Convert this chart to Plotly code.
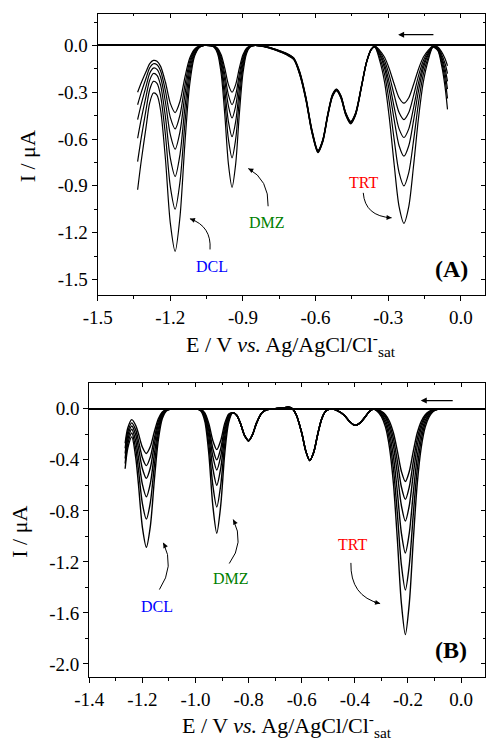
import plotly.graph_objects as go

# ---------------- Panel A data (E / V, I / uA) ----------------
E_A_DCL = [-1.335, -1.32, -1.30, -1.285, -1.27, -1.255, -1.24, -1.22, -1.20, -1.18,
           -1.16, -1.14, -1.12, -1.10, -1.08, -1.06]
I_A_DCL = [
    [-0.300, -0.239, -0.167, -0.116, -0.096, -0.101, -0.134, -0.236, -0.371, -0.430, -0.358, -0.206, -0.082, -0.023, -0.004, 0.0],
    [-0.380, -0.301, -0.209, -0.143, -0.117, -0.123, -0.164, -0.293, -0.461, -0.535, -0.445, -0.257, -0.102, -0.028, -0.005, 0.0],
    [-0.475, -0.376, -0.261, -0.178, -0.145, -0.153, -0.204, -0.364, -0.572, -0.665, -0.553, -0.319, -0.127, -0.035, -0.007, 0.0],
    [-0.595, -0.471, -0.325, -0.222, -0.180, -0.192, -0.256, -0.459, -0.723, -0.840, -0.699, -0.403, -0.160, -0.045, -0.008, 0.0],
    [-0.745, -0.591, -0.410, -0.282, -0.230, -0.243, -0.324, -0.576, -0.905, -1.050, -0.874, -0.504, -0.201, -0.056, -0.011, 0.0],
    [-0.925, -0.739, -0.522, -0.367, -0.305, -0.318, -0.416, -0.730, -1.139, -1.320, -1.098, -0.634, -0.252, -0.070, -0.013, 0.0],
]
E_A_DMZ = [-1.035, -1.02, -1.005, -0.99, -0.975, -0.96, -0.945, -0.93, -0.915, -0.90, -0.885, -0.87]
I_A_DMZ = [
    [0.0, -0.003, -0.017, -0.059, -0.146, -0.251, -0.300, -0.251, -0.146, -0.059, -0.017, -0.003],
    [-0.001, -0.004, -0.021, -0.075, -0.185, -0.317, -0.380, -0.317, -0.185, -0.075, -0.021, -0.004],
    [-0.001, -0.005, -0.026, -0.092, -0.226, -0.388, -0.465, -0.388, -0.226, -0.092, -0.026, -0.005],
    [-0.001, -0.006, -0.033, -0.116, -0.285, -0.488, -0.585, -0.488, -0.285, -0.116, -0.033, -0.006],
    [-0.001, -0.008, -0.040, -0.143, -0.351, -0.601, -0.720, -0.601, -0.351, -0.143, -0.040, -0.008],
    [-0.001, -0.010, -0.051, -0.180, -0.443, -0.760, -0.910, -0.760, -0.443, -0.180, -0.051, -0.010],
]
E_A_MID = [-0.85, -0.80, -0.76, -0.72, -0.69, -0.665, -0.64, -0.615, -0.59, -0.57,
           -0.55, -0.53, -0.513, -0.495, -0.475, -0.455, -0.435, -0.41, -0.39, -0.37]
I_A_MID = [
    [0.0, -0.008, -0.027, -0.050, -0.080, -0.170, -0.330, -0.540, -0.672, -0.602, -0.442, -0.313, -0.280, -0.323, -0.432, -0.487, -0.433, -0.255, -0.107, -0.024],
    [0.0, -0.009, -0.028, -0.052, -0.082, -0.174, -0.334, -0.544, -0.675, -0.605, -0.445, -0.316, -0.282, -0.326, -0.435, -0.490, -0.436, -0.257, -0.108, -0.024],
    [0.0, -0.010, -0.029, -0.054, -0.084, -0.178, -0.338, -0.548, -0.678, -0.608, -0.448, -0.319, -0.284, -0.329, -0.438, -0.493, -0.439, -0.259, -0.109, -0.025],
    [0.0, -0.011, -0.031, -0.056, -0.086, -0.182, -0.342, -0.552, -0.681, -0.611, -0.451, -0.322, -0.286, -0.332, -0.441, -0.496, -0.442, -0.261, -0.111, -0.025],
    [0.0, -0.012, -0.032, -0.058, -0.088, -0.186, -0.346, -0.556, -0.684, -0.614, -0.454, -0.325, -0.288, -0.335, -0.444, -0.499, -0.445, -0.263, -0.112, -0.026],
    [0.0, -0.013, -0.034, -0.060, -0.090, -0.190, -0.350, -0.560, -0.688, -0.618, -0.458, -0.328, -0.291, -0.338, -0.448, -0.503, -0.448, -0.265, -0.114, -0.026],
]
E_A_TRT = [-0.355, -0.335, -0.315, -0.295, -0.275, -0.255, -0.235, -0.215, -0.195, -0.175,
           -0.155, -0.135, -0.115, -0.095, -0.08, -0.065, -0.055]
I_A_TRT = [
    [-0.004, -0.031, -0.076, -0.152, -0.249, -0.335, -0.370, -0.335, -0.249, -0.152, -0.076, -0.031, -0.004, -0.010, -0.039, -0.085, -0.130],
    [-0.005, -0.040, -0.098, -0.195, -0.320, -0.430, -0.475, -0.430, -0.320, -0.195, -0.098, -0.040, -0.005, -0.014, -0.054, -0.117, -0.180],
    [-0.006, -0.050, -0.122, -0.242, -0.398, -0.535, -0.590, -0.535, -0.398, -0.242, -0.122, -0.050, -0.006, -0.018, -0.069, -0.150, -0.230],
    [-0.007, -0.060, -0.146, -0.292, -0.479, -0.643, -0.710, -0.643, -0.479, -0.292, -0.146, -0.060, -0.007, -0.022, -0.084, -0.182, -0.280],
    [-0.009, -0.077, -0.185, -0.370, -0.607, -0.815, -0.900, -0.815, -0.607, -0.370, -0.185, -0.077, -0.009, -0.027, -0.102, -0.221, -0.340],
    [-0.011, -0.097, -0.235, -0.469, -0.768, -1.033, -1.140, -1.033, -0.768, -0.469, -0.235, -0.097, -0.011, -0.033, -0.123, -0.267, -0.410],
]

# ---------------- Panel B data ----------------
E_B_DCL = [-1.265, -1.255, -1.24, -1.225, -1.215, -1.20, -1.185, -1.17, -1.155, -1.14,
           -1.125, -1.11, -1.095, -1.07, -1.035]
I_B_DCL = [
    [-0.27, -0.150, -0.085, -0.131, -0.194, -0.301, -0.350, -0.296, -0.180, -0.078, -0.025, -0.005, -0.001, 0.0, 0.0],
    [-0.31, -0.180, -0.110, -0.167, -0.248, -0.383, -0.445, -0.377, -0.229, -0.100, -0.031, -0.007, -0.001, 0.0, 0.0],
    [-0.35, -0.210, -0.135, -0.206, -0.303, -0.470, -0.545, -0.462, -0.280, -0.122, -0.038, -0.009, -0.001, 0.0, 0.0],
    [-0.39, -0.241, -0.160, -0.254, -0.381, -0.593, -0.690, -0.584, -0.355, -0.155, -0.048, -0.011, -0.002, 0.0, 0.0],
    [-0.43, -0.274, -0.190, -0.314, -0.474, -0.743, -0.865, -0.733, -0.445, -0.194, -0.061, -0.013, -0.002, 0.0, 0.0],
    [-0.47, -0.308, -0.220, -0.384, -0.589, -0.929, -1.085, -0.919, -0.558, -0.243, -0.076, -0.017, -0.003, 0.0, 0.0],
]
E_B_DMZ = [-1.00, -0.98, -0.965, -0.95, -0.935, -0.92, -0.905, -0.89, -0.875, -0.86]
I_B_DMZ = [
    [0.0, -0.005, -0.032, -0.115, -0.248, -0.320, -0.248, -0.115, -0.040, -0.030],
    [0.0, -0.007, -0.040, -0.144, -0.310, -0.400, -0.310, -0.144, -0.048, -0.030],
    [0.0, -0.008, -0.048, -0.173, -0.372, -0.480, -0.372, -0.173, -0.056, -0.030],
    [0.0, -0.010, -0.060, -0.216, -0.465, -0.600, -0.465, -0.216, -0.068, -0.030],
    [0.0, -0.013, -0.077, -0.277, -0.597, -0.770, -0.597, -0.277, -0.085, -0.030],
    [0.0, -0.017, -0.098, -0.351, -0.756, -0.975, -0.756, -0.351, -0.106, -0.030],
]
E_B_MID = [-0.845, -0.83, -0.815, -0.80, -0.785, -0.77, -0.75, -0.73, -0.70, -0.67,
           -0.65, -0.635, -0.62, -0.60, -0.585, -0.57, -0.555, -0.54, -0.525, -0.51,
           -0.49, -0.47, -0.44, -0.42, -0.40, -0.38, -0.36, -0.345, -0.33]
I_B_MID = [-0.05, -0.12, -0.21, -0.25, -0.20, -0.11, -0.03, -0.005, 0.0, 0.008,
           0.012, 0.0, -0.05, -0.19, -0.33, -0.405, -0.34, -0.20, -0.08, -0.02,
           0.0, -0.01, -0.05, -0.10, -0.13, -0.11, -0.06, -0.02, -0.002]
E_B_TRT = [-0.315, -0.30, -0.285, -0.27, -0.255, -0.24, -0.225, -0.21, -0.195, -0.18,
           -0.165, -0.15, -0.135, -0.12, -0.105, -0.09, -0.07, -0.04, -0.01, 0.0]
I_B_TRT = [
    [-0.007, -0.020, -0.046, -0.097, -0.188, -0.331, -0.490, -0.570, -0.490, -0.331, -0.188, -0.097, -0.046, -0.020, -0.007, -0.002, 0.0, 0.0, 0.0, 0.0],
    [-0.009, -0.025, -0.057, -0.121, -0.234, -0.412, -0.611, -0.710, -0.611, -0.412, -0.234, -0.121, -0.057, -0.025, -0.009, -0.002, 0.0, 0.0, 0.0, 0.0],
    [-0.011, -0.031, -0.070, -0.150, -0.290, -0.510, -0.757, -0.880, -0.757, -0.510, -0.290, -0.150, -0.070, -0.031, -0.011, -0.003, 0.0, 0.0, 0.0, 0.0],
    [-0.014, -0.040, -0.090, -0.192, -0.373, -0.655, -0.972, -1.130, -0.972, -0.655, -0.373, -0.192, -0.090, -0.040, -0.014, -0.003, 0.0, 0.0, 0.0, 0.0],
    [-0.017, -0.050, -0.114, -0.241, -0.469, -0.824, -1.221, -1.420, -1.221, -0.824, -0.469, -0.241, -0.114, -0.050, -0.017, -0.004, 0.0, 0.0, 0.0, 0.0],
    [-0.021, -0.062, -0.142, -0.301, -0.584, -1.027, -1.522, -1.770, -1.522, -1.027, -0.584, -0.301, -0.142, -0.062, -0.021, -0.005, 0.0, 0.0, 0.0, 0.0],
]

# ---------------- tick labels ----------------
XT_A = [-1.5, -1.2, -0.9, -0.6, -0.3, 0.0]
YT_A = [0.0, -0.3, -0.6, -0.9, -1.2, -1.5]
XT_B = [-1.4, -1.2, -1.0, -0.8, -0.6, -0.4, -0.2, 0.0]
YT_B = [0.0, -0.4, -0.8, -1.2, -1.6, -2.0]
XM_A = [-1.35, -1.05, -0.75, -0.45, -0.15]
YM_A = [0.15, -0.15, -0.45, -0.75, -1.05, -1.35]
XM_B = [-1.3, -1.1, -0.9, -0.7, -0.5, -0.3, -0.1]
YM_B = [-0.2, -0.6, -1.0, -1.4, -1.8]

SERIF = "Liberation Serif, Times New Roman, serif"
fig = go.Figure()

for k in range(len(I_A_DCL)):
    x = E_A_DCL + E_A_DMZ + E_A_MID + E_A_TRT
    y = I_A_DCL[k] + I_A_DMZ[k] + I_A_MID[k] + I_A_TRT[k]
    fig.add_trace(go.Scatter(x=x, y=y, mode="lines", xaxis="x", yaxis="y",
                             line=dict(color="black", width=1.2, shape="spline", smoothing=0.8),
                             showlegend=False, hoverinfo="skip"))
for k in range(len(I_B_DCL)):
    x = E_B_DCL + E_B_DMZ + E_B_MID + E_B_TRT
    y = I_B_DCL[k] + I_B_DMZ[k] + I_B_MID + I_B_TRT[k]
    fig.add_trace(go.Scatter(x=x, y=y, mode="lines", xaxis="x2", yaxis="y2",
                             line=dict(color="black", width=1.4, shape="spline", smoothing=0.8),
                             showlegend=False, hoverinfo="skip"))

# empty traces so the mirrored (inside-tick) top/right axes are drawn
fig.add_trace(go.Scatter(x=[], y=[], xaxis="x3", yaxis="y3", showlegend=False, hoverinfo="skip"))
fig.add_trace(go.Scatter(x=[], y=[], xaxis="x4", yaxis="y4", showlegend=False, hoverinfo="skip"))


def fmt(v):
    return f"{v:.1f}".replace("-0.0", "0.0")


def axis(domain, rng, tv, mv, anchor):
    return dict(domain=domain, range=rng, anchor=anchor, automargin=False,
                tickmode="array", tickvals=tv, ticktext=[fmt(v) for v in tv],
                ticks="outside", ticklen=5, tickwidth=1, tickcolor="black",
                minor=dict(tickvals=mv, ticks="outside", ticklen=3, tickwidth=1, tickcolor="black"),
                showline=True, mirror=True, linecolor="black", linewidth=1.2,
                showgrid=False, zeroline=False,
                tickfont=dict(family=SERIF, size=19, color="black"))


def inner(over, side, anchor, rng, tv, mv):
    return dict(overlaying=over, side=side, anchor=anchor, range=rng, automargin=False,
                tickmode="array", tickvals=tv, showticklabels=False,
                ticks="inside", ticklen=4, tickwidth=1, tickcolor="black",
                minor=dict(tickvals=mv, ticks="inside", ticklen=2, tickwidth=1, tickcolor="black"),
                showline=False, showgrid=False, zeroline=False)


fig.update_layout(
    template="none",
    width=486, height=744,
    margin=dict(l=0, r=0, t=0, b=0, autoexpand=False),
    paper_bgcolor="white", plot_bgcolor="white",
    xaxis=axis([0.201, 0.998], [-1.5, 0.1], XT_A, XM_A, "y"),
    yaxis=axis([0.6035, 0.9808], [-1.6, 0.2], YT_A, YM_A, "x"),
    xaxis2=axis([0.1837, 0.998], [-1.4, 0.09], XT_B, XM_B, "y2"),
    yaxis2=axis([0.0905, 0.4848], [-2.1, 0.2], YT_B, YM_B, "x2"),
    xaxis3=inner("x", "top", "y", [-1.5, 0.1], XT_A, XM_A),
    yaxis3=inner("y", "right", "x", [-1.6, 0.2], YT_A, YM_A),
    xaxis4=inner("x2", "top", "y2", [-1.4, 0.09], XT_B, XM_B),
    yaxis4=inner("y2", "right", "x2", [-2.1, 0.2], YT_B, YM_B),
)
fig.update_layout(yaxis=dict(zeroline=True, zerolinecolor="black", zerolinewidth=1.8),
                  yaxis2=dict(zeroline=True, zerolinecolor="black", zerolinewidth=1.8))

ann = []
shapes = []
XTITLE = "E / V <i>vs.</i> Ag/AgCl/Cl<sup>-</sup><sub>sat</sub>"
TFONT = dict(family=SERIF, size=22, color="black")
ann.append(dict(text=XTITLE, xref="paper", yref="paper", x=0.5994, y=0.5376,
                xanchor="center", yanchor="middle", showarrow=False, font=TFONT))
ann.append(dict(text=XTITLE, xref="paper", yref="paper", x=0.5906, y=0.0255,
                xanchor="center", yanchor="middle", showarrow=False, font=TFONT))
ann.append(dict(text="I / μA", xref="paper", yref="paper", x=0.0562, y=0.7903, textangle=-90,
                xanchor="center", yanchor="middle", showarrow=False, font=TFONT))
ann.append(dict(text="I / μA", xref="paper", yref="paper", x=0.0412, y=0.2853, textangle=-90,
                xanchor="center", yanchor="middle", showarrow=False, font=TFONT))

# labels: (text, color, x, y, xref, yref)
LABELS = [
    ("TRT", "red", -0.403, -0.877, "x", "y"),
    ("DMZ", "green", -0.802, -1.133, "x", "y"),
    ("DCL", "blue", -1.029, -1.415, "x", "y"),
    ("TRT", "red", -0.408, -1.064, "x2", "y2"),
    ("DMZ", "green", -0.866, -1.333, "x2", "y2"),
    ("DCL", "blue", -1.146, -1.548, "x2", "y2"),
]
for t, c, x, y, xr, yr in LABELS:
    ann.append(dict(text=t, x=x, y=y, xref=xr, yref=yr, showarrow=False,
                    xanchor="center", yanchor="middle",
                    font=dict(family=SERIF, size=16, color=c)))

ann.append(dict(text="<b>(A)</b>", x=-0.038, y=-1.432, xref="x", yref="y", showarrow=False,
                xanchor="center", yanchor="middle",
                font=dict(family=SERIF, size=24, color="black")))
ann.append(dict(text="<b>(B)</b>", x=-0.039, y=-1.888, xref="x2", yref="y2", showarrow=False,
                xanchor="center", yanchor="middle",
                font=dict(family=SERIF, size=24, color="black")))

# scan direction arrows
ann.append(dict(text="", x=-0.259, y=0.069, ax=-0.107, ay=0.069, xref="x", yref="y",
                axref="x", ayref="y", showarrow=True, arrowhead=2, arrowsize=1, arrowwidth=1.2,
                arrowcolor="black"))
ann.append(dict(text="", x=-0.152, y=0.065, ax=-0.026, ay=0.065, xref="x2", yref="y2",
                axref="x2", ayref="y2", showarrow=True, arrowhead=2, arrowsize=1, arrowwidth=1.2,
                arrowcolor="black"))

# curved arrows: (start, control, end, xref, yref)
CURVES = [
    ((-1.036, -1.308), (-1.029, -1.159), (-1.119, -1.111), "x", "y"),
    ((-0.796, -1.031), (-0.792, -0.860), (-0.878, -0.789), "x", "y"),
    ((-0.403, -0.945), (-0.396, -1.095), (-0.286, -1.105), "x", "y"),
    ((-1.136, -1.417), (-1.077, -1.234), (-1.121, -1.051), "x2", "y2"),
    ((-0.873, -1.213), (-0.814, -1.051), (-0.858, -0.868), "x2", "y2"),
    ((-0.415, -1.208), (-0.418, -1.470), (-0.305, -1.527), "x2", "y2"),
]
for s, c, e, xr, yr in CURVES:
    shapes.append(dict(type="path", xref=xr, yref=yr,
                       path=f"M {s[0]},{s[1]} Q {c[0]},{c[1]} {e[0]},{e[1]}",
                       line=dict(color="black", width=1)))
    tx = e[0] - 0.25 * (e[0] - c[0])
    ty = e[1] - 0.25 * (e[1] - c[1])
    ann.append(dict(text="", x=e[0], y=e[1], ax=tx, ay=ty, xref=xr, yref=yr,
                    axref=xr, ayref=yr, showarrow=True, arrowhead=2, arrowsize=1,
                    arrowwidth=1, arrowcolor="black", standoff=0))

fig.update_layout(annotations=ann, shapes=shapes)
fig.write_html("out.html", config={"displayModeBar": False},
               post_script="document.body.style.margin='0';")
